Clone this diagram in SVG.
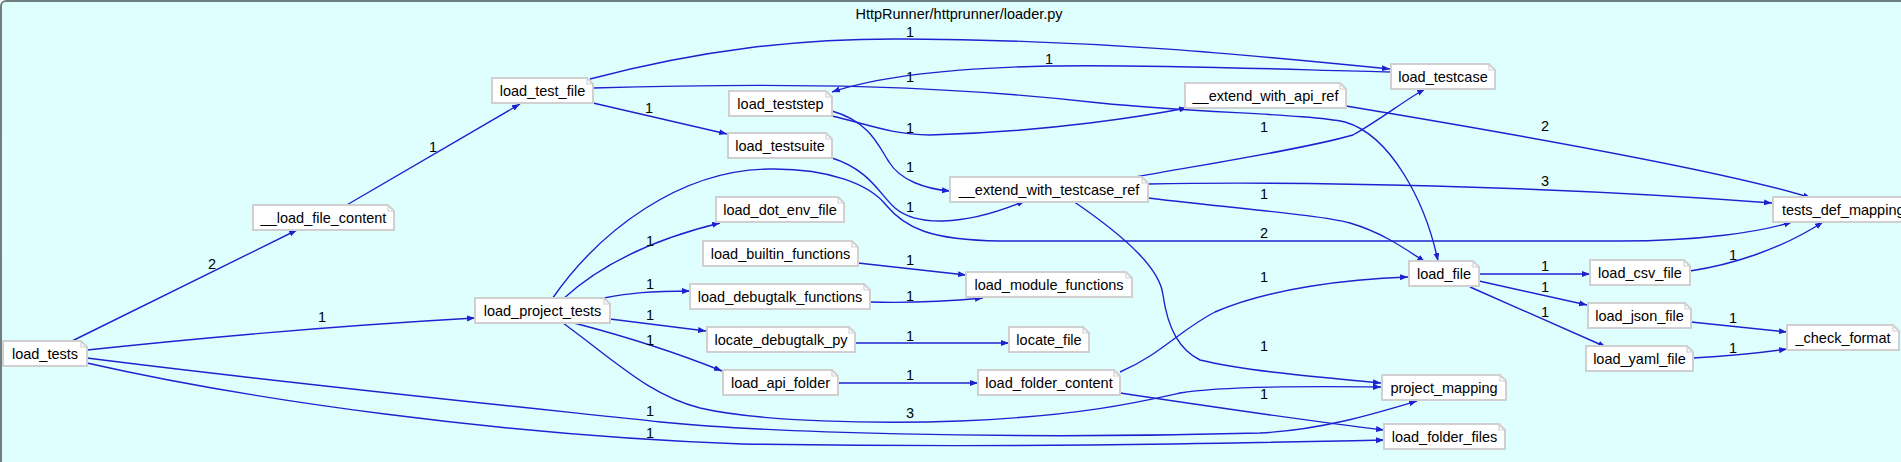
<svg xmlns="http://www.w3.org/2000/svg" width="1901" height="462" viewBox="0 0 1901 462">
<style>
.nb{fill:#ffffff;stroke:#d0d0d0;stroke-width:2}
.nf{fill:none;stroke:#d0d0d0;stroke-width:1.2}
.nt{font-family:"Liberation Sans",Arial,sans-serif;font-size:14.5px;fill:#000;text-anchor:middle}
.e{fill:none;stroke:#2020d0;stroke-width:1.4;marker-end:url(#ah)}
.lb{font-family:"Liberation Sans",Arial,sans-serif;font-size:14.5px;fill:#000;text-anchor:middle}
</style>
<defs>
<marker id="ah" markerUnits="userSpaceOnUse" markerWidth="9" markerHeight="7" refX="8" refY="3" orient="auto">
<path d="M0,0 L8,3 L0,6 Z" fill="#2020d0"/>
</marker>
</defs>
<rect x="1" y="1" width="1930" height="480" rx="5" fill="#dfffff" stroke="#6f7f7f" stroke-width="2"/>
<text class="nt" x="959" y="19">HttpRunner/httprunner/loader.py</text>
<g id="edges">
<path class="e" d="M70,342 L297,230"/>
<path class="e" d="M345,206 L520,104"/>
<path class="e" d="M87,350 C200,338 350,325 475,318"/>
<path class="e" d="M87,358 C300,385 550,410 661,422 C760,432 1000,440 1260,433 C1320,430 1370,415 1417,401"/>
<path class="e" d="M87,363 C250,400 500,435 742,444 C1000,448 1200,444 1384,440"/>
<path class="e" d="M590,79 C700,50 800,38 906,39 C1100,40 1250,55 1390,69"/>
<path class="e" d="M593,88 C800,82 950,86 1100,103 C1200,113 1310,114 1345,122 C1390,135 1425,200 1438,261"/>
<path class="e" d="M593,103 L727,134"/>
<path class="e" d="M1391,72 C1300,70 1150,64 1049,66 C950,68 880,76 832,92"/>
<path class="e" d="M832,116 C870,125 890,134 930,135 C1050,132 1150,115 1187,108"/>
<path class="e" d="M832,111 C870,122 878,145 889,162 C900,180 925,189 950,191"/>
<path class="e" d="M832,158 C870,170 880,195 895,208 C915,225 960,228 1025,201"/>
<path class="e" d="M552,299 C600,230 680,170 769,169 C830,168 870,185 886,205 C905,228 930,240 1000,241 L1620,241 C1700,241 1760,232 1792,222"/>
<path class="e" d="M563,299 C600,265 650,240 720,223"/>
<path class="e" d="M604,298 C630,293 650,291 690,291"/>
<path class="e" d="M610,319 L706,331"/>
<path class="e" d="M574,323 C620,335 670,350 722,371"/>
<path class="e" d="M563,323 C620,365 650,395 700,408 C760,422 880,424 960,421 C1080,416 1140,402 1180,393 C1220,386 1300,386 1381,387"/>
<path class="e" d="M858,263 L966,275"/>
<path class="e" d="M870,302 C900,303 940,302 983,298"/>
<path class="e" d="M855,343 L1009,343"/>
<path class="e" d="M838,383 L978,383"/>
<path class="e" d="M1135,177 C1200,165 1300,150 1353,135 C1380,120 1405,100 1425,89"/>
<path class="e" d="M1148,184 C1300,181 1550,186 1772,203"/>
<path class="e" d="M1148,198 C1250,210 1320,215 1350,223 C1380,232 1400,245 1425,262"/>
<path class="e" d="M1073,201 C1130,240 1160,270 1163,295 C1168,330 1180,350 1200,360 C1250,372 1330,378 1381,383"/>
<path class="e" d="M1346,106 C1550,140 1740,175 1811,198"/>
<path class="e" d="M1120,372 C1160,355 1180,330 1215,312 C1270,288 1350,279 1408,277"/>
<path class="e" d="M1120,393 C1200,405 1300,420 1384,430"/>
<path class="e" d="M1479,274 L1590,274"/>
<path class="e" d="M1479,281 L1587,305"/>
<path class="e" d="M1470,287 L1606,347"/>
<path class="e" d="M1690,271 C1730,265 1780,250 1823,222"/>
<path class="e" d="M1691,322 L1787,332"/>
<path class="e" d="M1693,358 C1730,356 1760,353 1787,349"/>
<text class="lb" x="212" y="269">2</text>
<text class="lb" x="433" y="152">1</text>
<text class="lb" x="322" y="322">1</text>
<text class="lb" x="650" y="416">1</text>
<text class="lb" x="650" y="438">1</text>
<text class="lb" x="910" y="37">1</text>
<text class="lb" x="910" y="82">1</text>
<text class="lb" x="649" y="113">1</text>
<text class="lb" x="1049" y="64">1</text>
<text class="lb" x="910" y="133">1</text>
<text class="lb" x="910" y="172">1</text>
<text class="lb" x="910" y="212">1</text>
<text class="lb" x="1264" y="238">2</text>
<text class="lb" x="650" y="246">1</text>
<text class="lb" x="650" y="289">1</text>
<text class="lb" x="650" y="320">1</text>
<text class="lb" x="650" y="345">1</text>
<text class="lb" x="910" y="418">3</text>
<text class="lb" x="910" y="265">1</text>
<text class="lb" x="910" y="301">1</text>
<text class="lb" x="910" y="341">1</text>
<text class="lb" x="910" y="380">1</text>
<text class="lb" x="1264" y="132">1</text>
<text class="lb" x="1545" y="186">3</text>
<text class="lb" x="1264" y="199">1</text>
<text class="lb" x="1264" y="351">1</text>
<text class="lb" x="1545" y="131">2</text>
<text class="lb" x="1264" y="282">1</text>
<text class="lb" x="1264" y="399">1</text>
<text class="lb" x="1545" y="271">1</text>
<text class="lb" x="1545" y="292">1</text>
<text class="lb" x="1545" y="317">1</text>
<text class="lb" x="1733" y="260">1</text>
<text class="lb" x="1733" y="323">1</text>
<text class="lb" x="1733" y="353">1</text>
</g>
<g id="n_load_tests"><path class="nb" d="M3,341 H81 L87,347 V366 H3 Z"/><path class="nf" d="M81,341 V347 H87"/><text class="nt" x="45" y="359">load_tests</text></g>
<g id="n_load_file_content"><path class="nb" d="M253,205 H388 L394,211 V230 H253 Z"/><path class="nf" d="M388,205 V211 H394"/><text class="nt" x="323.5" y="223">__load_file_content</text></g>
<g id="n_load_test_file"><path class="nb" d="M492,78 H587 L593,84 V103 H492 Z"/><path class="nf" d="M587,78 V84 H593"/><text class="nt" x="542.5" y="96">load_test_file</text></g>
<g id="n_load_project_tests"><path class="nb" d="M475,298 H604 L610,304 V323 H475 Z"/><path class="nf" d="M604,298 V304 H610"/><text class="nt" x="542.5" y="316">load_project_tests</text></g>
<g id="n_load_teststep"><path class="nb" d="M729,91 H826 L832,97 V116 H729 Z"/><path class="nf" d="M826,91 V97 H832"/><text class="nt" x="780.5" y="109">load_teststep</text></g>
<g id="n_load_testsuite"><path class="nb" d="M728,133 H826 L832,139 V158 H728 Z"/><path class="nf" d="M826,133 V139 H832"/><text class="nt" x="780" y="151">load_testsuite</text></g>
<g id="n_load_dot_env_file"><path class="nb" d="M716,197 H838 L844,203 V222 H716 Z"/><path class="nf" d="M838,197 V203 H844"/><text class="nt" x="780" y="215">load_dot_env_file</text></g>
<g id="n_load_builtin_functions"><path class="nb" d="M703,241 H852 L858,247 V266 H703 Z"/><path class="nf" d="M852,241 V247 H858"/><text class="nt" x="780.5" y="259">load_builtin_functions</text></g>
<g id="n_load_debugtalk_functions"><path class="nb" d="M690,284 H864 L870,290 V309 H690 Z"/><path class="nf" d="M864,284 V290 H870"/><text class="nt" x="780" y="302">load_debugtalk_functions</text></g>
<g id="n_locate_debugtalk_py"><path class="nb" d="M707,327 H849 L855,333 V352 H707 Z"/><path class="nf" d="M849,327 V333 H855"/><text class="nt" x="781" y="345">locate_debugtalk_py</text></g>
<g id="n_load_api_folder"><path class="nb" d="M723,370 H832 L838,376 V395 H723 Z"/><path class="nf" d="M832,370 V376 H838"/><text class="nt" x="780.5" y="388">load_api_folder</text></g>
<g id="n_extend_with_testcase_ref"><path class="nb" d="M950,177 H1142 L1148,183 V202 H950 Z"/><path class="nf" d="M1142,177 V183 H1148"/><text class="nt" x="1049" y="195">__extend_with_testcase_ref</text></g>
<g id="n_load_module_functions"><path class="nb" d="M966,272 H1126 L1132,278 V297 H966 Z"/><path class="nf" d="M1126,272 V278 H1132"/><text class="nt" x="1049" y="290">load_module_functions</text></g>
<g id="n_locate_file"><path class="nb" d="M1009,327 H1083 L1089,333 V352 H1009 Z"/><path class="nf" d="M1083,327 V333 H1089"/><text class="nt" x="1049" y="345">locate_file</text></g>
<g id="n_load_folder_content"><path class="nb" d="M978,370 H1114 L1120,376 V395 H978 Z"/><path class="nf" d="M1114,370 V376 H1120"/><text class="nt" x="1049" y="388">load_folder_content</text></g>
<g id="n_extend_with_api_ref"><path class="nb" d="M1185,83 H1340 L1346,89 V108 H1185 Z"/><path class="nf" d="M1340,83 V89 H1346"/><text class="nt" x="1265.5" y="101">__extend_with_api_ref</text></g>
<g id="n_load_testcase"><path class="nb" d="M1391,64 H1489 L1495,70 V89 H1391 Z"/><path class="nf" d="M1489,64 V70 H1495"/><text class="nt" x="1443" y="82">load_testcase</text></g>
<g id="n_load_file"><path class="nb" d="M1409,261 H1473 L1479,267 V286 H1409 Z"/><path class="nf" d="M1473,261 V267 H1479"/><text class="nt" x="1444" y="279">load_file</text></g>
<g id="n_project_mapping"><path class="nb" d="M1382,375 H1500 L1506,381 V400 H1382 Z"/><path class="nf" d="M1500,375 V381 H1506"/><text class="nt" x="1444" y="393">project_mapping</text></g>
<g id="n_load_folder_files"><path class="nb" d="M1384,424 H1499 L1505,430 V449 H1384 Z"/><path class="nf" d="M1499,424 V430 H1505"/><text class="nt" x="1444.5" y="442">load_folder_files</text></g>
<g id="n_load_csv_file"><path class="nb" d="M1590,260 H1684 L1690,266 V285 H1590 Z"/><path class="nf" d="M1684,260 V266 H1690"/><text class="nt" x="1640" y="278">load_csv_file</text></g>
<g id="n_load_json_file"><path class="nb" d="M1588,303 H1685 L1691,309 V328 H1588 Z"/><path class="nf" d="M1685,303 V309 H1691"/><text class="nt" x="1639.5" y="321">load_json_file</text></g>
<g id="n_load_yaml_file"><path class="nb" d="M1586,346 H1687 L1693,352 V371 H1586 Z"/><path class="nf" d="M1687,346 V352 H1693"/><text class="nt" x="1639.5" y="364">load_yaml_file</text></g>
<g id="n_check_format"><path class="nb" d="M1787,325 H1893 L1899,331 V350 H1787 Z"/><path class="nf" d="M1893,325 V331 H1899"/><text class="nt" x="1843" y="343">_check_format</text></g>
<g id="n_tests_def_mapping"><path class="nb" d="M1773,197 H1914 L1920,203 V222 H1773 Z"/><path class="nf" d="M1914,197 V203 H1920"/><text class="nt" x="1782" y="215" text-anchor="start" style="text-anchor:start">tests_def_mapping</text></g>
</svg>
